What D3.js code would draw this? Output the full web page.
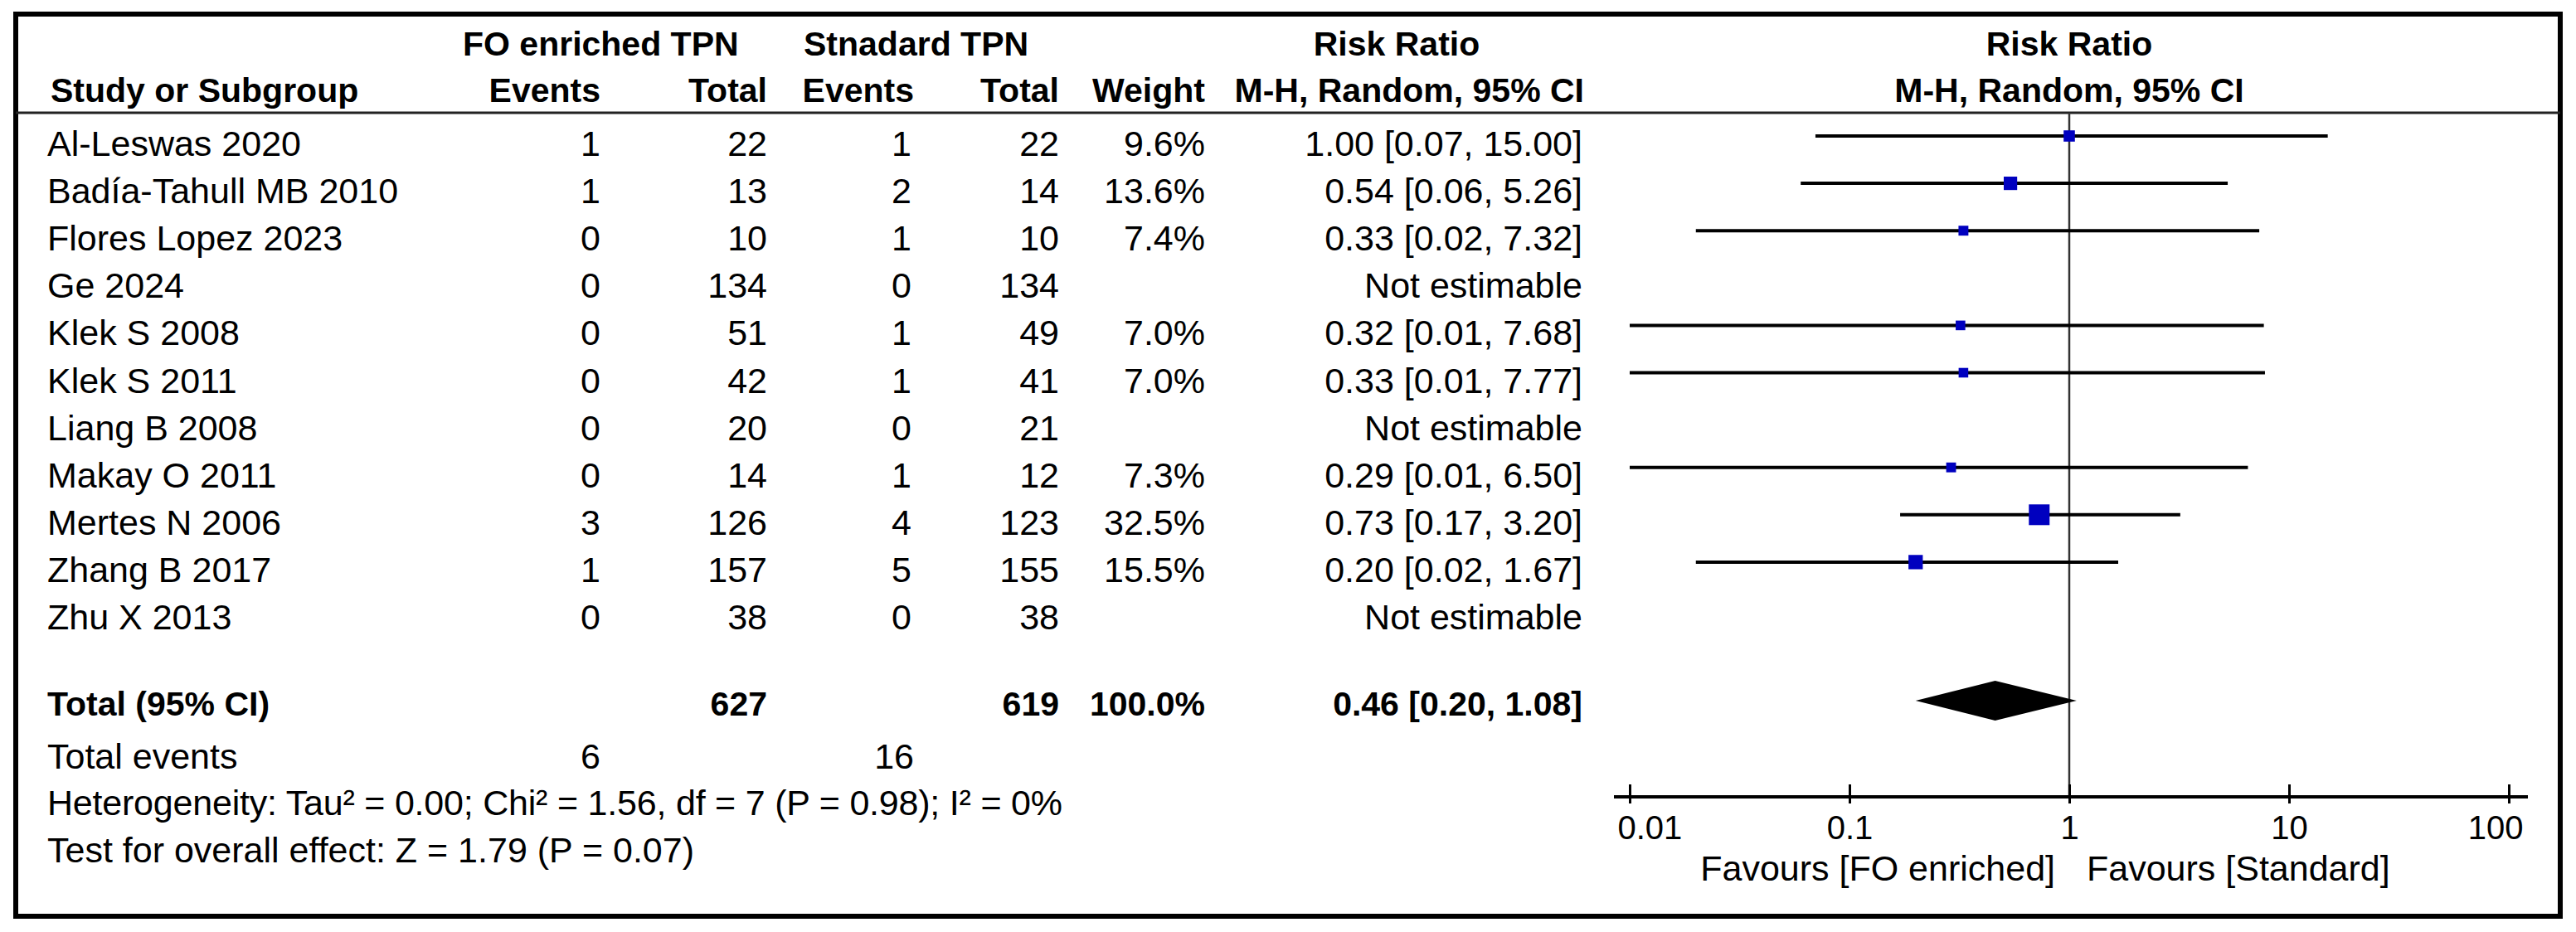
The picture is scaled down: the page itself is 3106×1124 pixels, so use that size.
<!DOCTYPE html>
<html>
<head>
<meta charset="utf-8">
<script src="https://cdn.jsdelivr.net/npm/d3@7/dist/d3.min.js"></script>
<style>
body { margin: 0; background: #fff; }
text { font-family: "Liberation Sans", Arial, sans-serif; fill: #000; }
.reg { font-size: 43px; }
.hdr { font-size: 41px; font-weight: bold; }
.tick text { font-family: "Liberation Sans", Arial, sans-serif; font-size: 40px; fill: #000; }
</style>
</head>
<body>
<svg id="chart" width="3106" height="1124"></svg>
<script>
// study level data
var studies   = ["Al-Leswas 2020", "Badía-Tahull MB 2010", "Flores Lopez 2023", "Ge 2024", "Klek S 2008",
                 "Klek S 2011", "Liang B 2008", "Makay O 2011", "Mertes N 2006", "Zhang B 2017", "Zhu X 2013"];
var foEvents  = [1, 1, 0, 0, 0, 0, 0, 0, 3, 1, 0];
var foTotal   = [22, 13, 10, 134, 51, 42, 20, 14, 126, 157, 38];
var stdEvents = [1, 2, 1, 0, 1, 1, 0, 1, 4, 5, 0];
var stdTotal  = [22, 14, 10, 134, 49, 41, 21, 12, 123, 155, 38];
var weights   = [9.6, 13.6, 7.4, null, 7.0, 7.0, null, 7.3, 32.5, 15.5, null];
var rr        = [1.00, 0.54, 0.33, null, 0.32, 0.33, null, 0.29, 0.73, 0.20, null];
var ciLow     = [0.07, 0.06, 0.02, null, 0.01, 0.01, null, 0.01, 0.17, 0.02, null];
var ciHigh    = [15.00, 5.26, 7.32, null, 7.68, 7.77, null, 6.50, 3.20, 1.67, null];

// pooled result
var totalFo = 627, totalStd = 619, totalWeight = 100.0;
var pooledRR = 0.46, pooledLow = 0.20, pooledHigh = 1.08;
var eventsFo = 6, eventsStd = 16;
var heterogeneity = "Heterogeneity: Tau² = 0.00; Chi² = 1.56, df = 7 (P = 0.98); I² = 0%";
var overallEffect = "Test for overall effect: Z = 1.79 (P = 0.07)";

var tickValues = [0.01, 0.1, 1, 10, 100];
var tickLabels = ["0.01", "0.1", "1", "10", "100"];
var favourLeft = "Favours [FO enriched]", favourRight = "Favours [Standard]";

var svg = d3.select("#chart");
var f2 = d3.format(".2f"), f1 = d3.format(".1f");

// column right edges (text-anchor end), study names start at left
var col = {study: 57, foEvents: 724, foTotal: 925, stdEvents: 1099, stdTotal: 1277, weight: 1453, rr: 1908};

var x = d3.scaleLog().domain([0.01, 100]).range([1965, 3025]);
var rowY = d3.scaleLinear().domain([0, studies.length - 1]).range([188, 759]);
var sq = d3.scaleSqrt().domain([0, 32.5]).range([0, 25]);

// outer frame
svg.append("rect")
    .attr("x", 19).attr("y", 17)
    .attr("width", 3068).attr("height", 1088)
    .attr("fill", "none").attr("stroke", "#000").attr("stroke-width", 6);

// header
function txt(xp, yp, s, cls, anchor) {
    return svg.append("text")
        .attr("class", cls)
        .attr("x", xp).attr("y", yp)
        .attr("text-anchor", anchor || "start")
        .text(s);
}
txt(558, 67, "FO enriched TPN", "hdr");
txt(969, 67, "Stnadard TPN", "hdr");
txt(1684, 67, "Risk Ratio", "hdr", "middle");
txt(x(1), 67, "Risk Ratio", "hdr", "middle");
txt(61, 123, "Study or Subgroup", "hdr");
txt(col.foEvents, 123, "Events", "hdr", "end");
txt(col.foTotal, 123, "Total", "hdr", "end");
txt(col.stdEvents + 3, 123, "Events", "hdr", "end");
txt(col.stdTotal, 123, "Total", "hdr", "end");
txt(col.weight, 123, "Weight", "hdr", "end");
txt(col.rr + 2, 123, "M-H, Random, 95% CI", "hdr", "end");
txt(x(1), 123, "M-H, Random, 95% CI", "hdr", "middle");

svg.append("line")
    .attr("x1", 19).attr("x2", 3087)
    .attr("y1", 136).attr("y2", 136)
    .attr("stroke", "#222").attr("stroke-width", 3);

// null line
svg.append("line")
    .attr("x1", x(1)).attr("x2", x(1))
    .attr("y1", 136).attr("y2", 961)
    .attr("stroke", "#333").attr("stroke-width", 2.5);

// study rows
var rows = svg.selectAll(".row")
    .data(studies)
    .enter()
    .append("g")
    .attr("class", "row");

rows.append("text").attr("class", "reg").attr("x", col.study).attr("y", (d, i) => rowY(i)).text(d => d);
rows.append("text").attr("class", "reg").attr("x", col.foEvents).attr("y", (d, i) => rowY(i))
    .attr("text-anchor", "end").text((d, i) => foEvents[i]);
rows.append("text").attr("class", "reg").attr("x", col.foTotal).attr("y", (d, i) => rowY(i))
    .attr("text-anchor", "end").text((d, i) => foTotal[i]);
rows.append("text").attr("class", "reg").attr("x", col.stdEvents).attr("y", (d, i) => rowY(i))
    .attr("text-anchor", "end").text((d, i) => stdEvents[i]);
rows.append("text").attr("class", "reg").attr("x", col.stdTotal).attr("y", (d, i) => rowY(i))
    .attr("text-anchor", "end").text((d, i) => stdTotal[i]);
rows.append("text").attr("class", "reg").attr("x", col.weight).attr("y", (d, i) => rowY(i))
    .attr("text-anchor", "end").text((d, i) => weights[i] == null ? "" : f1(weights[i]) + "%");
rows.append("text").attr("class", "reg").attr("x", col.rr).attr("y", (d, i) => rowY(i))
    .attr("text-anchor", "end")
    .text((d, i) => rr[i] == null ? "Not estimable" : `${f2(rr[i])} [${f2(ciLow[i])}, ${f2(ciHigh[i])}]`);

// CI whiskers and weight squares
var est = d3.range(studies.length).filter(i => rr[i] != null);
svg.selectAll(".ci")
    .data(est)
    .enter()
    .append("line")
    .attr("class", "ci")
    .attr("x1", i => x(ciLow[i])).attr("x2", i => x(ciHigh[i]))
    .attr("y1", i => rowY(i) - 24).attr("y2", i => rowY(i) - 24)
    .attr("stroke", "#000").attr("stroke-width", 4);

svg.selectAll(".box")
    .data(est)
    .enter()
    .append("rect")
    .attr("class", "box")
    .attr("x", i => x(rr[i]) - sq(weights[i]) / 2)
    .attr("y", i => rowY(i) - 24 - sq(weights[i]) / 2)
    .attr("width", i => sq(weights[i]))
    .attr("height", i => sq(weights[i]))
    .attr("fill", "#0000bf");

// total row
var totY = 863;
txt(col.study, totY, "Total (95% CI)", "hdr");
txt(col.foTotal, totY, totalFo, "hdr", "end");
txt(col.stdTotal, totY, totalStd, "hdr", "end");
txt(col.weight, totY, f1(totalWeight) + "%", "hdr", "end");
txt(col.rr, totY, `${f2(pooledRR)} [${f2(pooledLow)}, ${f2(pooledHigh)}]`, "hdr", "end");

var dy = totY - 18;
svg.append("path")
    .attr("d", d3.line()([[x(pooledLow), dy], [x(pooledRR), dy - 24], [x(pooledHigh), dy], [x(pooledRR), dy + 24]]) + "Z")
    .attr("fill", "#000");

txt(col.study, 927, "Total events", "reg");
txt(col.foEvents, 927, eventsFo, "reg", "end");
txt(col.stdEvents + 3, 927, eventsStd, "reg", "end");
txt(col.study, 983, heterogeneity, "reg")
    .attr("textLength", 1224).attr("lengthAdjust", "spacing");
txt(col.study, 1040, overallEffect, "reg");

// axis
var axisY = 961;
var axis = svg.append("g")
    .attr("class", "tick-axis")
    .attr("transform", `translate(0,${axisY})`)
    .call(d3.axisBottom(x).tickValues(tickValues).tickFormat((d, i) => tickLabels[i]).tickSizeOuter(0));
axis.select(".domain").remove();
axis.selectAll(".tick line")
    .attr("y1", -15).attr("y2", 8)
    .attr("stroke", "#000").attr("stroke-width", 3);
axis.selectAll(".tick text")
    .attr("y", 51).attr("dy", null)
    .attr("text-anchor", (d, i) => i == 0 ? "start" : (i == tickValues.length - 1 ? "end" : "middle"))
    .attr("x", (d, i) => i == 0 ? -15 : (i == tickValues.length - 1 ? 17 : 0));
axis.append("line")
    .attr("x1", x(0.01) - 19).attr("x2", x(100) + 23)
    .attr("stroke", "#000").attr("stroke-width", 4);

txt(x(1) - 17, 1062, favourLeft, "reg", "end");
txt(x(1) + 21, 1062, favourRight, "reg");
</script>
</body>
</html>
